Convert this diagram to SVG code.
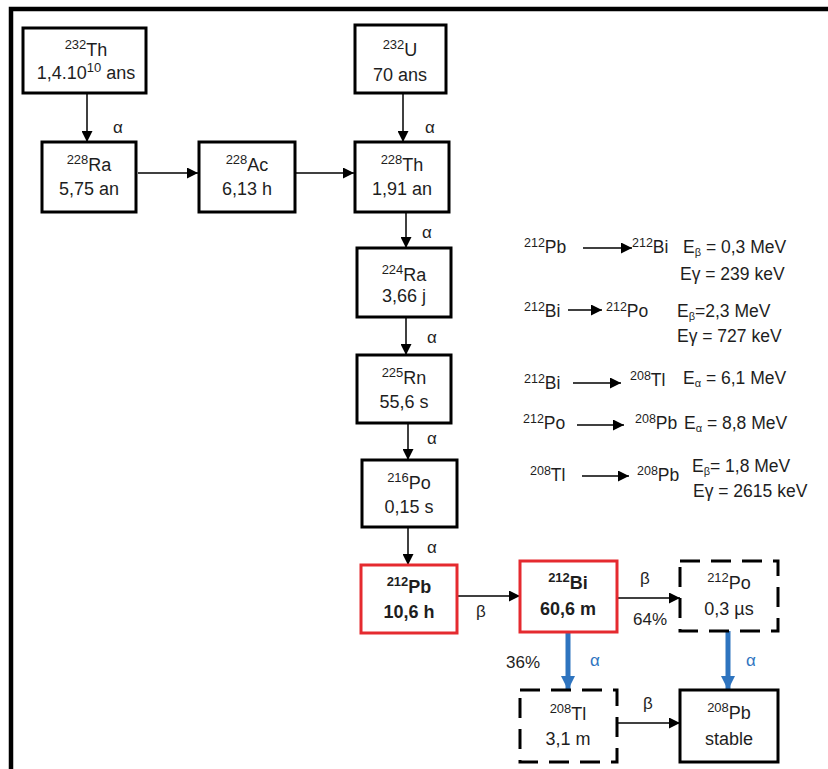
<svg xmlns="http://www.w3.org/2000/svg" width="828" height="769" viewBox="0 0 828 769">
<style>
text{font-family:"Liberation Sans",Arial,sans-serif;font-size:18px;fill:#1e1e1e}
.c{text-anchor:middle}
.b{font-weight:bold}
.box{fill:#fff;stroke:#000;stroke-width:3}
.red{fill:#fff;stroke:#e52a2f;stroke-width:3}
.dash{fill:#fff;stroke:#000;stroke-width:3;stroke-dasharray:20 11}
.ln{stroke:#000;stroke-width:1.5;fill:none}
.bl{stroke:#2e74bf;stroke-width:5;fill:none}
.lab{font-size:17px}
.lg{font-size:17.5px}
.blue{fill:#2e74bf}
</style>
<defs>
<marker id="ah" viewBox="0 0 10 10" refX="10" refY="5" markerWidth="11" markerHeight="11" markerUnits="userSpaceOnUse" orient="auto"><path d="M0,0 L10,5 L0,10 z" fill="#000"/></marker>
<marker id="ahb" viewBox="0 0 10 10" refX="10" refY="5" markerWidth="14" markerHeight="14" markerUnits="userSpaceOnUse" orient="auto"><path d="M0,0 L10,5 L0,10 z" fill="#2e74bf"/></marker>
</defs>
<rect width="828" height="769" fill="#fff"/>
<path d="M11,769 V9 H828" fill="none" stroke="#000" stroke-width="4.5"/>

<g id="connectors">
<line class="ln" x1="87" y1="93" x2="87" y2="142" marker-end="url(#ah)"/>
<line class="ln" x1="403" y1="93" x2="403" y2="142" marker-end="url(#ah)"/>
<line class="ln" x1="138" y1="173" x2="198" y2="173" marker-end="url(#ah)"/>
<line class="ln" x1="296" y1="173" x2="354" y2="173" marker-end="url(#ah)"/>
<line class="ln" x1="406" y1="212" x2="406" y2="248" marker-end="url(#ah)"/>
<line class="ln" x1="406" y1="317" x2="406" y2="355" marker-end="url(#ah)"/>
<line class="ln" x1="408" y1="423" x2="408" y2="460" marker-end="url(#ah)"/>
<line class="ln" x1="408" y1="527" x2="408" y2="565" marker-end="url(#ah)"/>
<line class="ln" x1="457" y1="596" x2="520" y2="596" marker-end="url(#ah)"/>
<line class="ln" x1="617" y1="598" x2="680" y2="598" marker-end="url(#ah)"/>
<line class="ln" x1="617" y1="723" x2="680" y2="723" marker-end="url(#ah)"/>
<line class="bl" x1="568" y1="632" x2="568" y2="690" marker-end="url(#ahb)"/>
<line class="bl" x1="728" y1="631" x2="728" y2="690" marker-end="url(#ahb)"/>
<text class="lab" x="113" y="133">α</text>
<text class="lab" x="425" y="133">α</text>
<text class="lab" x="422" y="238">α</text>
<text class="lab" x="427" y="343">α</text>
<text class="lab" x="427" y="444">α</text>
<text class="lab" x="427" y="553">α</text>
<text class="lab" x="476" y="617">β</text>
<text class="lab" x="640" y="584">β</text>
<text class="lab" x="633" y="625">64%</text>
<text class="lab" x="506" y="668">36%</text>
<text class="lab blue" x="590" y="666">α</text>
<text class="lab blue" x="746" y="666">α</text>
<text class="lab" x="643" y="709">β</text>
</g>

<g id="n-th232"><rect class="box" x="23" y="28" width="123" height="65"/>
<text class="c" x="86" y="56"><tspan font-size="13" dy="-7">232</tspan><tspan dy="7">Th</tspan></text>
<text class="c" x="86" y="79">1,4.10<tspan font-size="13" dy="-7">10</tspan><tspan dy="7"> ans</tspan></text></g>

<g id="n-u232"><rect class="box" x="355" y="25" width="91" height="68"/>
<text class="c" x="400" y="56"><tspan font-size="13" dy="-7">232</tspan><tspan dy="7">U</tspan></text>
<text class="c" x="400" y="81">70 ans</text></g>

<g id="n-ra228"><rect class="box" x="42" y="142" width="94" height="70"/>
<text class="c" x="89" y="171"><tspan font-size="13" dy="-7">228</tspan><tspan dy="7">Ra</tspan></text>
<text class="c" x="89" y="195">5,75 an</text></g>

<g id="n-ac228"><rect class="box" x="199" y="142" width="96" height="70"/>
<text class="c" x="247" y="171"><tspan font-size="13" dy="-7">228</tspan><tspan dy="7">Ac</tspan></text>
<text class="c" x="247" y="195">6,13 h</text></g>

<g id="n-th228"><rect class="box" x="355" y="142" width="94" height="70"/>
<text class="c" x="402" y="171"><tspan font-size="13" dy="-7">228</tspan><tspan dy="7">Th</tspan></text>
<text class="c" x="402" y="195">1,91 an</text></g>

<g id="n-ra224"><rect class="box" x="357" y="248" width="94" height="69"/>
<text class="c" x="404" y="281"><tspan font-size="13" dy="-7">224</tspan><tspan dy="7">Ra</tspan></text>
<text class="c" x="404" y="302">3,66 j</text></g>

<g id="n-rn225"><rect class="box" x="357" y="355" width="94" height="68"/>
<text class="c" x="404" y="384"><tspan font-size="13" dy="-7">225</tspan><tspan dy="7">Rn</tspan></text>
<text class="c" x="404" y="408">55,6 s</text></g>

<g id="n-po216"><rect class="box" x="362" y="460" width="95" height="67"/>
<text class="c" x="409" y="489"><tspan font-size="13" dy="-7">216</tspan><tspan dy="7">Po</tspan></text>
<text class="c" x="409" y="513">0,15 s</text></g>

<g id="n-pb212"><rect class="red" x="361" y="565" width="96" height="68"/>
<text class="c b" x="409" y="593"><tspan font-size="13" dy="-7">212</tspan><tspan dy="7">Pb</tspan></text>
<text class="c b" x="409" y="618">10,6 h</text></g>

<g id="n-bi212"><rect class="red" x="520" y="561" width="97" height="71"/>
<text class="c b" x="568" y="589"><tspan font-size="13" dy="-7">212</tspan><tspan dy="7">Bi</tspan></text>
<text class="c b" x="568" y="615">60,6 m</text></g>

<g id="n-po212"><rect class="dash" x="680" y="561" width="98" height="70"/>
<text class="c" x="729" y="589"><tspan font-size="13" dy="-7">212</tspan><tspan dy="7">Po</tspan></text>
<text class="c" x="729" y="615">0,3 µs</text></g>

<g id="n-tl208"><rect class="dash" x="520" y="690" width="97" height="72"/>
<text class="c" x="568" y="720"><tspan font-size="13" dy="-7">208</tspan><tspan dy="7">Tl</tspan></text>
<text class="c" x="568" y="745">3,1 m</text></g>

<g id="n-pb208"><rect class="box" x="680" y="690" width="98" height="72"/>
<text class="c" x="729" y="719"><tspan font-size="13" dy="-7">208</tspan><tspan dy="7">Pb</tspan></text>
<text class="c" x="729" y="745">stable</text></g>

<g id="legend">
<line class="ln" x1="583" y1="248" x2="632" y2="248" marker-end="url(#ah)"/>
<line class="ln" x1="568" y1="310" x2="602" y2="310" marker-end="url(#ah)"/>
<line class="ln" x1="573" y1="383" x2="621" y2="383" marker-end="url(#ah)"/>
<line class="ln" x1="577" y1="425" x2="624" y2="425" marker-end="url(#ah)"/>
<line class="ln" x1="582" y1="476" x2="629" y2="476" marker-end="url(#ah)"/>
<text class="lg" x="524" y="253"><tspan font-size="12.5" dy="-6">212</tspan><tspan dy="6">Pb</tspan></text>
<text class="lg" x="632" y="253"><tspan font-size="12.5" dy="-6">212</tspan><tspan dy="6">Bi</tspan></text>
<text class="lg" x="683" y="253">E<tspan font-size="11" dy="3">β</tspan><tspan dy="-3"> = 0,3 MeV</tspan></text>
<text class="lg" x="680" y="280">Eγ = 239 keV</text>
<text class="lg" x="524" y="317"><tspan font-size="12.5" dy="-6">212</tspan><tspan dy="6">Bi</tspan></text>
<text class="lg" x="606" y="317"><tspan font-size="12.5" dy="-6">212</tspan><tspan dy="6">Po</tspan></text>
<text class="lg" x="677" y="317">E<tspan font-size="11" dy="3">β</tspan><tspan dy="-3">=2,3 MeV</tspan></text>
<text class="lg" x="677" y="342">Eγ = 727 keV</text>
<text class="lg" x="524" y="389"><tspan font-size="12.5" dy="-6">212</tspan><tspan dy="6">Bi</tspan></text>
<text class="lg" x="630" y="386"><tspan font-size="12.5" dy="-6">208</tspan><tspan dy="6">Tl</tspan></text>
<text class="lg" x="683" y="384">E<tspan font-size="11" dy="3">α</tspan><tspan dy="-3"> = 6,1 MeV</tspan></text>
<text class="lg" x="523" y="429"><tspan font-size="12.5" dy="-6">212</tspan><tspan dy="6">Po</tspan></text>
<text class="lg" x="635" y="429"><tspan font-size="12.5" dy="-6">208</tspan><tspan dy="6">Pb</tspan></text>
<text class="lg" x="684" y="429">E<tspan font-size="11" dy="3">α</tspan><tspan dy="-3"> = 8,8 MeV</tspan></text>
<text class="lg" x="530" y="481"><tspan font-size="12.5" dy="-6">208</tspan><tspan dy="6">Tl</tspan></text>
<text class="lg" x="637" y="481"><tspan font-size="12.5" dy="-6">208</tspan><tspan dy="6">Pb</tspan></text>
<text class="lg" x="692" y="472">E<tspan font-size="11" dy="3">β</tspan><tspan dy="-3">= 1,8 MeV</tspan></text>
<text class="lg" x="693" y="497">Eγ = 2615 keV</text>
</g>
</svg>
